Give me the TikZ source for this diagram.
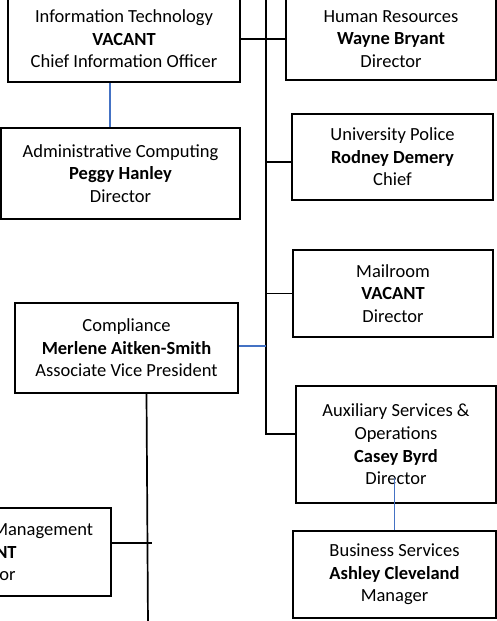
\documentclass[tikz,border=0pt]{standalone}
\usepackage{fontspec}
\setmainfont{Carlito}
\definecolor{linkblue}{RGB}{68,114,196}
\begin{document}
\begin{tikzpicture}[x=1pt,y=-1pt,
  box/.style={draw=black,line width=1.9pt,rectangle,inner sep=0pt,align=center,
    font=\fontsize{18.5}{22.6}\selectfont},
  blk/.style={draw=black,line width=1.7pt},
  blu/.style={draw=linkblue,line width=1.6pt}]
\useasboundingbox (0,0) rectangle (497,621);
\clip (0,0) rectangle (497,621);
% boxes
\node[box,minimum width=232pt,minimum height=86pt] (it) at (124,39)
  {Information Technology\\\textbf{VACANT}\\Chief Information Officer};
\node[box,minimum width=210pt,minimum height=82pt] (hr) at (391,39)
  {Human Resources\\\textbf{Wayne Bryant}\\Director};
\node[box,minimum width=239pt,minimum height=91pt] (ac) at (120.5,173.5)
  {Administrative Computing\\\textbf{Peggy Hanley}\\Director};
\node[box,minimum width=201pt,minimum height=86pt] (up) at (392.5,157)
  {University Police\\\textbf{Rodney Demery}\\Chief};
\node[box,minimum width=200pt,minimum height=87pt] (mr) at (393,293.5)
  {Mailroom\\\textbf{VACANT}\\Director};
\node[box,minimum width=223pt,minimum height=90pt] (co) at (126.5,348)
  {Compliance\\\textbf{Merlene Aitken-Smith}\\Associate Vice President};
\node[box,minimum width=200pt,minimum height=117pt] (ax) at (396,444.5)
  {Auxiliary Services \&\\Operations\\\textbf{Casey Byrd}\\Director};
\node[box,minimum width=203pt,minimum height=87pt] (bs) at (394.5,574.5)
  {Business Services\\\textbf{Ashley Cleveland}\\Manager};
\node[box,minimum width=252pt,minimum height=88pt] (rm) at (-15,552)
  {Enterprise Risk Management\\\textbf{VACANT}\\Director};
% coordinates
\coordinate (trtop) at (266,-5);
\coordinate (trbot) at (266,434);
\coordinate (cobot) at (148,626);
\coordinate (rmend) at (152,543);
% connectors
\draw[blk] (it.east) -- (hr.west);
\draw[blk] (trtop) -- (trbot) -- (trbot -| ax.west);
\draw[blk] ([yshift=-5pt]up.west) -- ([yshift=-5pt]up.west -| trtop);
\draw[blk] (mr.west) -- (mr.west -| trtop);
\draw[blu] ([yshift=2pt]co.east) -- ([yshift=2pt]co.east -| trtop);
\draw[blk] ([xshift=20pt]co.south) -- (cobot);
\draw[blk] (rmend -| rm.east) -- (rmend);
\draw[blu] ([xshift=-14pt]it.south) -- ([xshift=-14pt]it.south |- ac.north);
\draw[blu] (bs.north) -- ([yshift=26pt]bs.north |- ax.south);
\end{tikzpicture}
\end{document}
